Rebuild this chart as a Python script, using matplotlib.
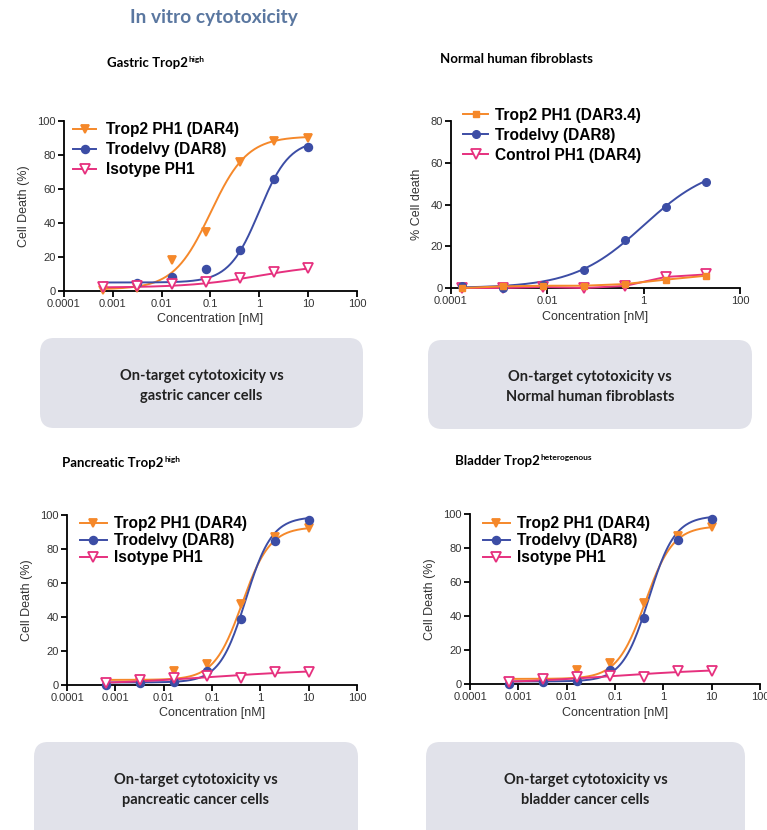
import numpy as np
import matplotlib.pyplot as plt
from matplotlib.lines import Line2D
from matplotlib.patches import FancyBboxPatch

# ---- data ----
doses_5fold = [0.00064, 0.0032, 0.016, 0.08, 0.4, 2, 10]
doses_7fold = [0.00017, 0.00119, 0.0083, 0.058, 0.408, 2.86, 20]

gastric_trop2 = [0.5, 2, 18, 35, 76, 88, 90]
gastric_trodelvy = [np.nan, 4.5, 8, 13, 24, 66, 85]
gastric_isotype = [2.3, 3, 4, 5.5, 7.5, 11, 13.5]

fibro_trop2 = [0, 0.8, 1.1, 1.1, 1.9, 4, 5.9]
fibro_trodelvy = [0.8, 0, 1.5, 8.8, 22.9, 38.6, 50.6]
fibro_control = [0, 0, 0.5, 0, 1, 5.3, 6.5]

pancreatic_trop2 = [1, 2, 8, 12.5, 47.5, 87, 92.5]
pancreatic_trodelvy = [0, 1, 2, 8, 39, 85, 97]
pancreatic_isotype = [1, 3, 4, 5, 4, 7.5, 7.5]

# 4PL fit parameters: bottom, top, EC50, hill
fit_gastric_trop2 = [1, 91, 0.1, 1.15]
fit_gastric_trodelvy = [5, 89, 1.0, 1.4]
fit_gastric_isotype = [2, 16, 1.0, 0.6]
fit_fibro_trodelvy = [0, 60, 1.0, 0.6]
fit_panc_trop2 = [3, 93, 0.42, 1.5]
fit_panc_trodelvy = [1.5, 99, 0.5, 1.6]
fit_panc_isotype = [0, 9.5, 0.1, 0.35]

ORANGE = '#F5882A'
BLUE = '#3C4DA5'
PINK = '#E6307E'
ARIAL = 'Liberation Sans'
CALIBRI = 'Lato'
LEG_SIZE = 11.2


def curve(params, x0, x1):
    bottom, top, ec50, hill = params
    xs = np.logspace(np.log10(x0), np.log10(x1), 200)
    ys = bottom + (top - bottom) / (1 + (ec50 / xs) ** hill)
    return xs, ys


def style_axes(ax, ymax, yticks, xticks, xticklabels, ylabel):
    ax.set_xscale('log')
    ax.set_xlim(1e-4, 100)
    ax.set_ylim(0, ymax)
    ax.set_xticks(xticks)
    ax.set_xticklabels(xticklabels)
    ax.minorticks_off()
    ax.set_yticks(yticks)
    for s in ['top', 'right']:
        ax.spines[s].set_visible(False)
    for s in ['left', 'bottom']:
        ax.spines[s].set_linewidth(1.3)
    ax.tick_params(width=1.3, length=4, labelsize=8, colors='black', pad=2)
    for lab in ax.get_xticklabels() + ax.get_yticklabels():
        lab.set_fontfamily(ARIAL)
        lab.set_color('#333333')
    ax.set_xlabel('Concentration [nM]', fontsize=9, family=ARIAL, color='#333333', labelpad=3)
    ax.set_ylabel(ylabel, fontsize=9, family=ARIAL, color='#333333', labelpad=5)


def fitted_panel(ax, doses, series, legend_pos, spacing, hlen, tpad):
    handles = []
    for ys, fit, color, marker, mfc, ms, label in series:
        xs, cy = curve(fit, doses[0], doses[-1])
        ax.plot(xs, cy, color=color, lw=1.4, clip_on=False)
        ax.plot(doses, ys, ls='none', marker=marker, color=color, mfc=mfc,
                mec=color, ms=ms, mew=1.3, clip_on=False, zorder=3)
        handles.append(Line2D([], [], color=color, lw=1.4, marker=marker, mfc=mfc,
                              mec=color, ms=ms, mew=1.3, label=label))
    ax.legend(handles=handles, loc='upper left', bbox_to_anchor=legend_pos, frameon=False,
              borderpad=0, borderaxespad=0, labelspacing=spacing, handlelength=hlen,
              handletextpad=tpad, prop={'family': ARIAL, 'weight': 'bold', 'size': LEG_SIZE})


def panel_title(x, y, main, sup):
    t = fig.text(x, y, main, family=CALIBRI, weight='bold', fontsize=9.5, va='center')
    if sup:
        plt.annotate(sup, xy=(1.0, 1.0), xycoords=t, xytext=(0.5, 0.8),
                     textcoords='offset points', va='top', ha='left',
                     family=CALIBRI, weight='bold', fontsize=6)


def info_box(x0, y0, x1, y1, text, ty=None):
    W, H = 767, 830
    box = FancyBboxPatch((x0 / W, 1 - y1 / H), (x1 - x0) / W, (y1 - y0) / H,
                         boxstyle='round,pad=0,rounding_size=0.018',
                         transform=fig.transFigure, fc='#E1E2EA', ec='none', clip_on=False)
    fig.patches.append(box)
    if ty is None:
        ty = (y0 + y1) / 2
    fig.text((x0 + x1) / 2 / W, 1 - ty / H, text, ha='center', va='center',
             family=CALIBRI, weight='bold', fontsize=10.5, color='#222222', linespacing=1.6)


fig = plt.figure(figsize=(7.67, 8.30), dpi=100)

fig.text(214 / 767, 1 - 18 / 830, 'In vitro cytotoxicity', ha='center', va='center',
         family=CALIBRI, weight='bold', fontsize=13.8, color='#5A77A0')

dec_ticks = [1e-4, 1e-3, 1e-2, 1e-1, 1, 10, 100]
dec_labels = ['0.0001', '0.001', '0.01', '0.1', '1', '10', '100']

# gastric
ax1 = fig.add_axes([0.0834, 0.6494, 0.382, 0.2048])
fitted_panel(ax1, doses_5fold, [
    (gastric_trop2, fit_gastric_trop2, ORANGE, 'v', ORANGE, 5.5, 'Trop2 PH1 (DAR4)'),
    (gastric_trodelvy, fit_gastric_trodelvy, BLUE, 'o', BLUE, 5.5, 'Trodelvy (DAR8)'),
    (gastric_isotype, fit_gastric_isotype, PINK, 'v', 'white', 7, 'Isotype PH1'),
], (0.031, 0.994), 0.32, 1.5, 0.62)
style_axes(ax1, 100, [0, 20, 40, 60, 80, 100], dec_ticks, dec_labels, 'Cell Death (%)')

# fibroblasts
ax2 = fig.add_axes([0.588, 0.653, 0.3768, 0.2012])
xs, cy = curve(fit_fibro_trodelvy, doses_7fold[0], doses_7fold[-1])
ax2.plot(doses_7fold, fibro_control, color=PINK, lw=1.4, marker='v', mfc='white', mec=PINK,
         ms=7, mew=1.3, clip_on=False, zorder=3)
ax2.plot(xs, cy, color=BLUE, lw=1.4, clip_on=False)
ax2.plot(doses_7fold, fibro_trodelvy, ls='none', marker='o', color=BLUE, ms=5.5,
         clip_on=False, zorder=3)
ax2.plot(doses_7fold, fibro_trop2, color=ORANGE, lw=1.4, marker='s', ms=5,
         clip_on=False, zorder=4)
h2 = [Line2D([], [], color=ORANGE, lw=1.4, marker='s', ms=5, label='Trop2 PH1 (DAR3.4)'),
      Line2D([], [], color=BLUE, lw=1.4, marker='o', ms=5.5, label='Trodelvy (DAR8)'),
      Line2D([], [], color=PINK, lw=1.4, marker='v', mfc='white', mec=PINK, ms=7, mew=1.3,
             label='Control PH1 (DAR4)')]
ax2.legend(handles=h2, loc='upper left', bbox_to_anchor=(0.042, 1.08), frameon=False,
           borderpad=0, borderaxespad=0, labelspacing=0.32, handlelength=1.6,
           handletextpad=0.42, prop={'family': ARIAL, 'weight': 'bold', 'size': LEG_SIZE})
style_axes(ax2, 80, [0, 20, 40, 60, 80], [1e-4, 1e-2, 1, 100],
           ['0.0001', '0.01', '1', '100'], '% Cell death')

# pancreatic and bladder (same data)
for pos, lpos in [([0.0874, 0.1747, 0.378, 0.2048], (0.045, 0.994)),
                  ([0.6128, 0.1759, 0.378, 0.2048], (0.045, 0.988))]:
    ax = fig.add_axes(pos)
    fitted_panel(ax, doses_5fold, [
        (pancreatic_trop2, fit_panc_trop2, ORANGE, 'v', ORANGE, 5.5, 'Trop2 PH1 (DAR4)'),
        (pancreatic_trodelvy, fit_panc_trodelvy, BLUE, 'o', BLUE, 5.5, 'Trodelvy (DAR8)'),
        (pancreatic_isotype, fit_panc_isotype, PINK, 'v', 'white', 7, 'Isotype PH1'),
    ], lpos, 0.14, 1.7, 0.45)
    style_axes(ax, 100, [0, 20, 40, 60, 80, 100], dec_ticks, dec_labels, 'Cell Death (%)')

panel_title(107 / 767, 1 - 63 / 830, 'Gastric Trop2', 'high')
panel_title(440 / 767, 1 - 59 / 830, 'Normal human fibroblasts', None)
panel_title(62 / 767, 1 - 463 / 830, 'Pancreatic Trop2', 'high')
panel_title(455 / 767, 1 - 461 / 830, 'Bladder Trop2', 'heterogenous')

info_box(40, 338, 363, 428, 'On-target cytotoxicity vs\ngastric cancer cells', 386)
info_box(428, 340, 752, 429, 'On-target cytotoxicity vs\nNormal human fibroblasts', 387)
info_box(34, 742, 358, 850, 'On-target cytotoxicity vs\npancreatic cancer cells', 790)
info_box(426, 742, 745, 850, 'On-target cytotoxicity vs\nbladder cancer cells', 790)

fig.savefig('out.png', dpi=100)
